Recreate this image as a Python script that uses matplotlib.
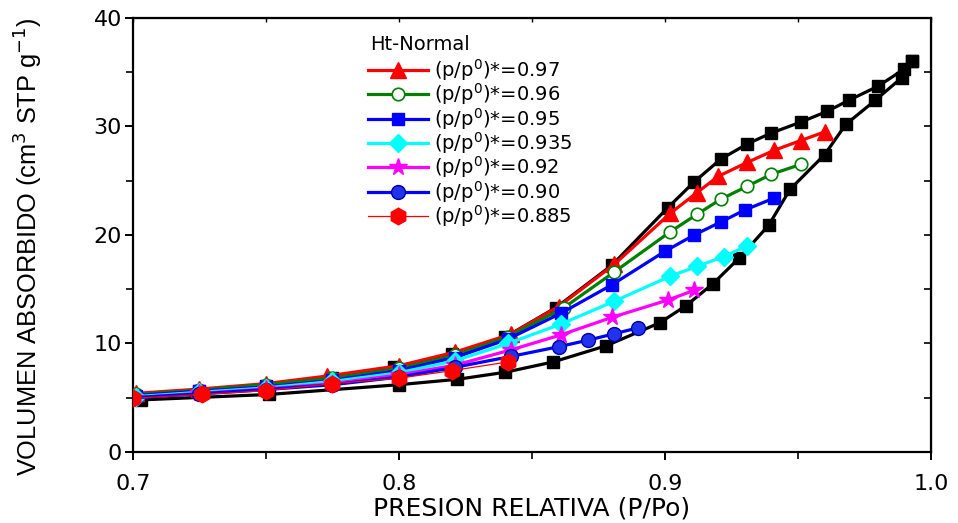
import matplotlib
matplotlib.use("Agg")
import matplotlib.pyplot as plt
from matplotlib.ticker import MultipleLocator, FormatStrFormatter

plt.rcParams['font.family'] = ['DejaVu Sans']
plt.rcParams['mathtext.fontset'] = 'dejavusans'

# Black isotherm: adsorption and desorption branches
x_ads = [0.703, 0.751, 0.800, 0.822, 0.840, 0.858, 0.878, 0.898, 0.908, 0.918,
         0.928, 0.939, 0.947, 0.960, 0.968, 0.979, 0.989, 0.993]
y_ads = [4.8, 5.3, 6.2, 6.7, 7.35, 8.3, 9.8, 11.9, 13.5, 15.5,
         17.9, 20.9, 24.2, 27.4, 30.2, 32.4, 34.5, 36.0]
x_des = [0.993, 0.990, 0.980, 0.969, 0.961, 0.951, 0.940, 0.931, 0.921, 0.911,
         0.901, 0.880, 0.859, 0.840, 0.820, 0.798, 0.775, 0.750, 0.725, 0.700]
y_des = [36.0, 35.3, 33.7, 32.4, 31.4, 30.4, 29.4, 28.4, 27.0, 24.9,
         22.5, 17.2, 13.3, 10.6, 9.0, 7.8, 6.8, 6.1, 5.6, 5.2]

# Scanning curves
x_097 = [0.701, 0.725, 0.750, 0.773, 0.800, 0.821, 0.842, 0.860, 0.881, 0.902,
         0.912, 0.920, 0.931, 0.941, 0.951, 0.960]
y_097 = [5.4, 5.8, 6.3, 7.0, 7.95, 9.2, 10.85, 13.4, 17.3, 22.0,
         23.9, 25.4, 26.7, 27.8, 28.7, 29.5]
x_096 = [0.701, 0.725, 0.750, 0.775, 0.800, 0.821, 0.841, 0.862, 0.881, 0.902,
         0.912, 0.921, 0.931, 0.940, 0.951]
y_096 = [5.3, 5.7, 6.2, 6.8, 7.7, 8.9, 10.6, 13.3, 16.6, 20.3,
         21.9, 23.3, 24.5, 25.6, 26.5]
x_095 = [0.701, 0.725, 0.750, 0.775, 0.800, 0.821, 0.841, 0.861, 0.880, 0.900,
         0.911, 0.921, 0.930, 0.941]
y_095 = [5.2, 5.6, 6.0, 6.6, 7.5, 8.7, 10.4, 12.8, 15.4, 18.5,
         20.0, 21.2, 22.3, 23.4]
x_0935 = [0.701, 0.725, 0.750, 0.775, 0.800, 0.821, 0.841, 0.861, 0.881, 0.902,
          0.912, 0.922, 0.931]
y_0935 = [5.1, 5.5, 5.9, 6.5, 7.3, 8.4, 10.0, 11.8, 13.9, 16.2,
          17.1, 18.0, 19.0]
x_092 = [0.700, 0.725, 0.750, 0.775, 0.800, 0.821, 0.842, 0.861, 0.880, 0.901, 0.911]
y_092 = [5.0, 5.4, 5.8, 6.3, 7.1, 8.0, 9.4, 10.8, 12.4, 14.0, 14.9]
x_090 = [0.700, 0.725, 0.750, 0.775, 0.800, 0.821, 0.842, 0.860, 0.871, 0.881, 0.890]
y_090 = [5.0, 5.35, 5.75, 6.2, 6.9, 7.8, 8.8, 9.7, 10.3, 10.9, 11.45]
x_0885 = [0.700, 0.726, 0.750, 0.775, 0.800, 0.820, 0.841]
y_0885 = [4.95, 5.3, 5.65, 6.3, 6.8, 7.5, 8.3]

labels = ["(p/p$^{0}$)*=0.97", "(p/p$^{0}$)*=0.96", "(p/p$^{0}$)*=0.95",
          "(p/p$^{0}$)*=0.935", "(p/p$^{0}$)*=0.92", "(p/p$^{0}$)*=0.90",
          "(p/p$^{0}$)*=0.885"]
legend_title = "Ht-Normal"

fig = plt.figure(figsize=(9.58, 5.23), dpi=100)
ax = fig.add_axes([0.1388, 0.1358, 0.8330, 0.8298])

lw = 2.3
ax.plot(x_ads, y_ads, color='black', lw=lw, marker='s', ms=8.5, zorder=2)
ax.plot(x_des, y_des, color='black', lw=lw, marker='s', ms=8.5, zorder=2)

ax.plot(x_097, y_097, color='red', lw=lw, marker='^', ms=11, label=labels[0], zorder=3)
ax.plot(x_096, y_096, color='green', lw=lw, marker='o', ms=9, mfc='white',
        mec='green', mew=1.2, label=labels[1], zorder=3)
ax.plot(x_095, y_095, color='blue', lw=lw, marker='s', ms=8.5, label=labels[2], zorder=3)
ax.plot(x_0935, y_0935, color='cyan', lw=lw, marker='D', ms=9, label=labels[3], zorder=3)
ax.plot(x_092, y_092, color='magenta', lw=lw, marker='*', ms=13, label=labels[4], zorder=3)
ax.plot(x_090, y_090, color='blue', lw=lw, marker='o', ms=10, mfc='#2233ee',
        mec='#0000aa', label=labels[5], zorder=3)
ax.plot(x_0885, y_0885, color='red', lw=0.9, marker='h', ms=12, label=labels[6], zorder=4)

ax.set_xlim(0.7, 1.0)
ax.set_ylim(0, 40)
ax.xaxis.set_major_locator(MultipleLocator(0.1))
ax.xaxis.set_minor_locator(MultipleLocator(0.05))
ax.yaxis.set_major_locator(MultipleLocator(10))
ax.yaxis.set_minor_locator(MultipleLocator(5))
ax.xaxis.set_major_formatter(FormatStrFormatter('%.1f'))

for s in ax.spines.values():
    s.set_linewidth(1.6)
ax.tick_params(which='major', direction='out', length=6, width=1.4, labelsize=16)
ax.tick_params(which='minor', direction='out', length=5, width=1.2)
ax.tick_params(axis='x', which='major', pad=10)
ax.tick_params(axis='y', which='major', pad=2)

sx = ax.secondary_xaxis('top')
sx.xaxis.set_major_locator(MultipleLocator(0.05))
sx.tick_params(direction='in', length=3, width=1.0, labeltop=False)
sy = ax.secondary_yaxis('right')
sy.yaxis.set_major_locator(MultipleLocator(5))
sy.tick_params(direction='in', length=5, width=1.2, labelright=False)

ax.set_xlabel("PRESION RELATIVA (P/Po)", fontsize=18, labelpad=2)
ax.set_ylabel("VOLUMEN ABSORBIDO (cm$^{3}$ STP g$^{-1}$)", fontsize=18.3,
              family=['Liberation Sans'])
ax.yaxis.set_label_coords(-0.110, 0.473)

fig.text(370 / 958, 1 - 45 / 523, legend_title, fontsize=14, ha='left', va='center')
leg = ax.legend(loc='upper left', bbox_to_anchor=(368 / 958, 1 - 57 / 523),
                bbox_transform=fig.transFigure, frameon=False, fontsize=14,
                handlelength=3.1, handletextpad=0.3, labelspacing=-0.08,
                borderpad=0.0, borderaxespad=0.0)

fig.savefig("out.png", dpi=100)
